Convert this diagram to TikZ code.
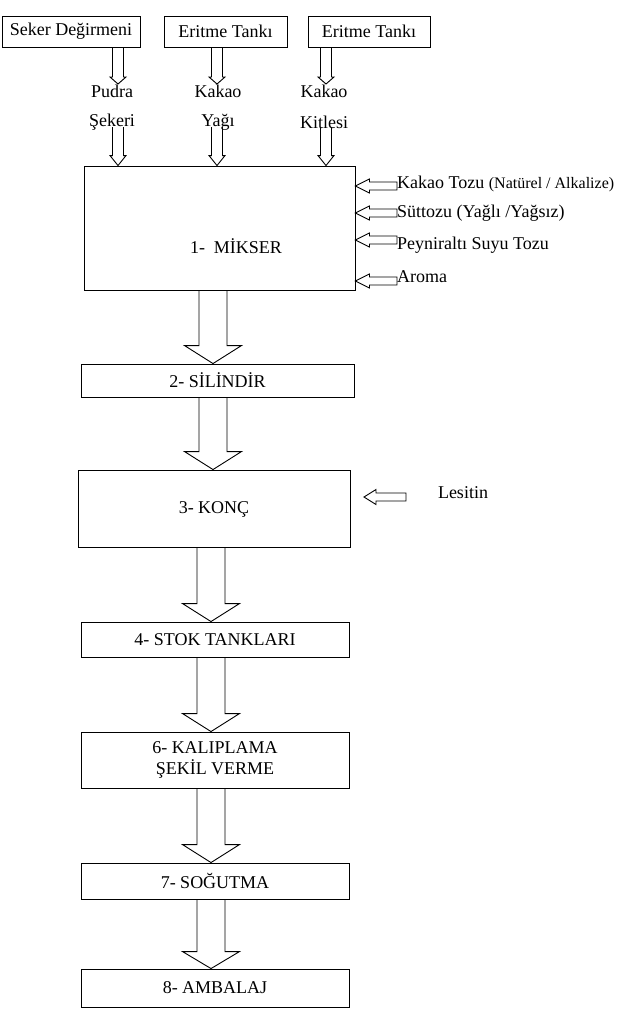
\documentclass[tikz,border=0pt]{standalone}
\usepackage{fontspec}
\setmainfont{Liberation Serif}
\usetikzlibrary{calc}
\tikzset{
  box/.style={draw, line width=0.9pt, inner sep=0pt, font=\fontsize{18}{21}\selectfont},
  lbl/.style={inner sep=0pt, font=\fontsize{18}{21}\selectfont},
  blk/.style={draw, line width=0.9pt, line join=miter},
}
% down block arrow: start, tip, shaft half width, head half width, head length
\newcommand\bdown[5]{%
  \draw[blk] let \p1=(#1), \p2=(#2) in
    (\x1-#3,\y1) -- (\x1-#3,\y2+#5) -- (\x1-#4,\y2+#5) -- (\x1,\y2)
    -- (\x1+#4,\y2+#5) -- (\x1+#3,\y2+#5) -- (\x1+#3,\y1);}
% left block arrow: tail, tip, shaft half height, head half height, head length
\newcommand\bleft[5]{%
  \draw[blk] let \p1=(#1), \p2=(#2) in
    (\x1,\y1+#3) -- (\x2+#5,\y1+#3) -- (\x2+#5,\y1+#4) -- (\x2,\y1)
    -- (\x2+#5,\y1-#4) -- (\x2+#5,\y1-#3) -- (\x1,\y1-#3) -- cycle;}
\begin{document}
\begin{tikzpicture}[x=1pt,y=-1pt]
\useasboundingbox (0,0) rectangle (622,1015);
% top boxes
\node[box, minimum width=138, minimum height=31] (sd) at (71,31.5) {Seker Değirmeni};
\node[box, minimum width=123, minimum height=31] (et1) at (225.5,31.5) {Eritme Tankı};
\node[box, minimum width=122, minimum height=31] (et2) at (369,31.5) {Eritme Tankı};
% mixer
\node[box, minimum width=271, minimum height=124] (mix) at (219.5,228) {};
\node[lbl] (mixt) at (236,246) {1-\ \ MİKSER};
% ingredient labels
\node[lbl] (pu1) at (112,91) {Pudra};
\node[lbl] (pu2) at (112,122) {Şekeri};
\node[lbl] (ky1) at (218,91) {Kakao};
\node[lbl] (ky2) at (218,122) {Yağı};
\node[lbl] (kk1) at (324,91) {Kakao};
\node[lbl] (kk2) at (324,122) {Kitlesi};
% x positions of the top arrows
\coordinate (xa) at (118,0);
\coordinate (xb) at (217,0);
\coordinate (xc) at (326,0);
\coordinate (ta) at (118,84);
\coordinate (tb) at (217,84);
\coordinate (tc) at (326,84);
\coordinate (sa) at (118,127);
\coordinate (sb) at (217,127);
\coordinate (sc) at (326,127);
\bdown{sd.south -| xa}{ta}{5.5pt}{8pt}{7pt}
\bdown{et1.south -| xb}{tb}{5.5pt}{8pt}{7pt}
\bdown{et2.south -| xc}{tc}{5.5pt}{8pt}{7pt}
\bdown{sa}{mix.north -| xa}{5.5pt}{8pt}{10pt}
\bdown{sb}{mix.north -| xb}{5.5pt}{8pt}{10pt}
\bdown{sc}{mix.north -| xc}{5.5pt}{8pt}{10pt}
% right side inputs
\node[lbl, anchor=west] (kt) at (397,184) {Kakao Tozu {\fontsize{16}{19}\selectfont(Natürel / Alkalize)}};
\node[lbl, anchor=west] (st) at (397,213) {Süttozu (Yağlı /Yağsız)};
\node[lbl, anchor=west] (pt) at (397,245) {Peyniraltı Suyu Tozu};
\node[lbl, anchor=west] (ar) at (397,277) {Aroma};
\coordinate (r1) at (397,186);
\coordinate (r2) at (397,213);
\coordinate (r3) at (397,240);
\coordinate (r4) at (397,281);
\bleft{r1}{mix.east |- r1}{4pt}{7pt}{14pt}
\bleft{r2}{mix.east |- r2}{4pt}{7pt}{14pt}
\bleft{r3}{mix.east |- r3}{4pt}{7pt}{14pt}
\bleft{r4}{mix.east |- r4}{4pt}{7pt}{14pt}
% process chain
\node[box, minimum width=273, minimum height=33] (sil) at (217.5,380.5) {2- SİLİNDİR};
\node[box, minimum width=272, minimum height=77] (konc) at (214,508.5) {};
\node[lbl] (konct) at (214,509) {3- KONÇ};
\node[box, minimum width=268, minimum height=35] (stok) at (215,639.5) {4- STOK TANKLARI};
\node[box, minimum width=268, minimum height=56, align=center, font=\fontsize{18}{21}\selectfont] (kal) at (215,760) {6- KALIPLAMA\\ŞEKİL VERME};
\node[box, minimum width=268, minimum height=36] (sog) at (215,881) {7- SOĞUTMA};
\node[box, minimum width=268, minimum height=38] (amb) at (215,988) {8- AMBALAJ};
\coordinate (xm) at (213,0);
\coordinate (xn) at (211,0);
\bdown{mix.south -| xm}{sil.north -| xm}{14pt}{28.5pt}{18pt}
\bdown{sil.south -| xm}{konc.north -| xm}{14pt}{28.5pt}{18pt}
\bdown{konc.south -| xn}{stok.north -| xn}{14pt}{28.5pt}{18pt}
\bdown{stok.south -| xn}{kal.north -| xn}{14pt}{28.5pt}{18pt}
\bdown{kal.south -| xn}{sog.north -| xn}{14pt}{28.5pt}{18pt}
\bdown{sog.south -| xn}{amb.north -| xn}{14pt}{28.5pt}{17pt}
% lesitin
\node[lbl] (les) at (463,493) {Lesitin};
\coordinate (lt) at (406,497);
\coordinate (lh) at (364,497);
\bleft{lt}{lh}{4pt}{7.5pt}{12pt}
\end{tikzpicture}
\end{document}
